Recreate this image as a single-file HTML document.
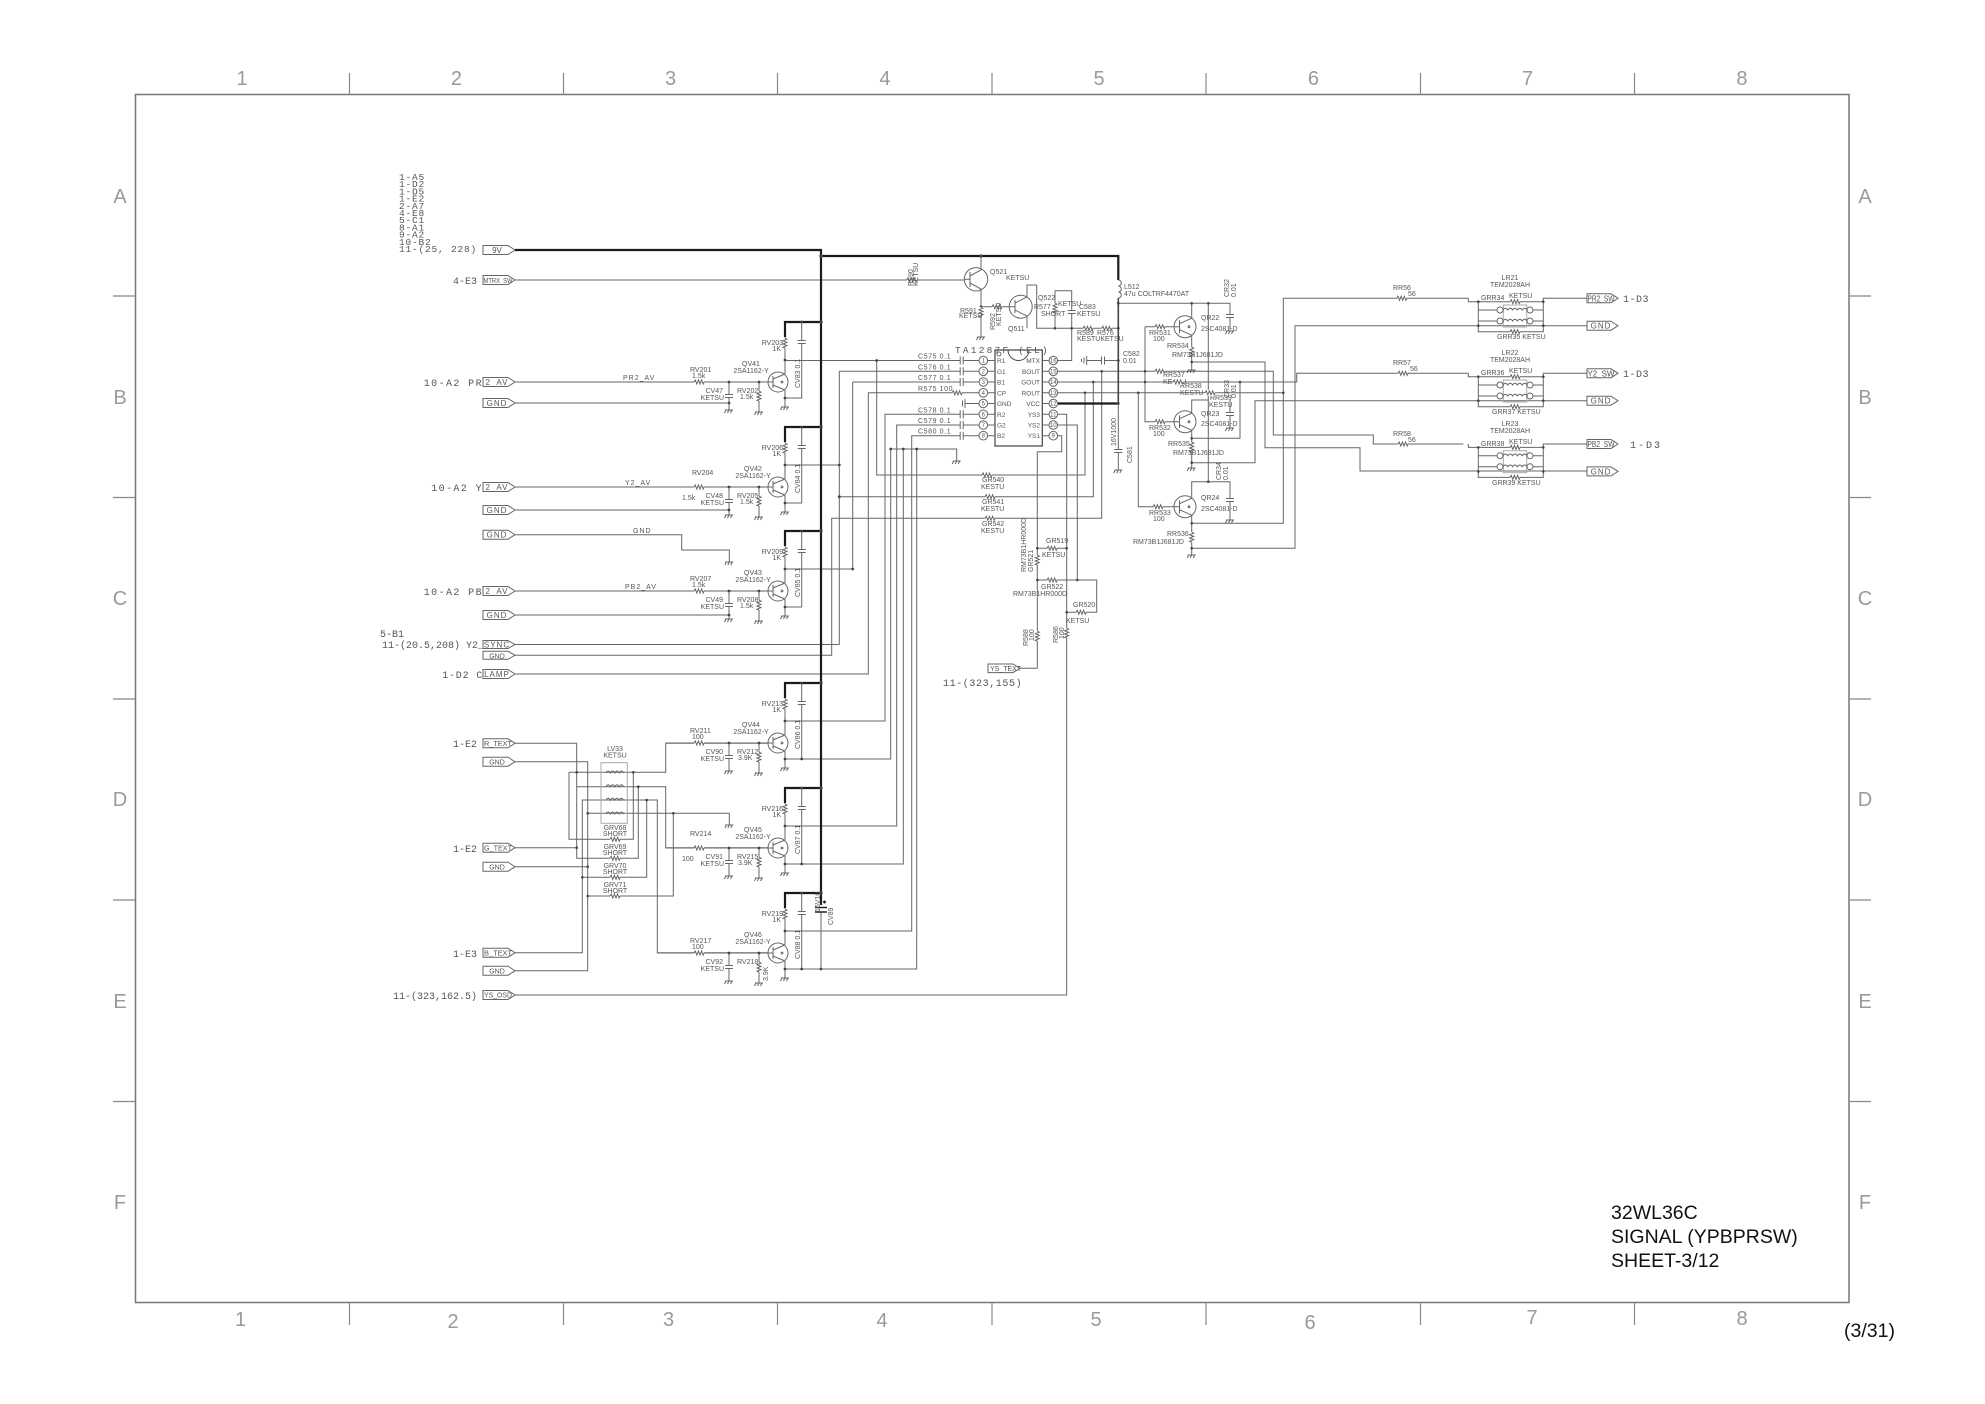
<!DOCTYPE html>
<html><head><meta charset="utf-8"><title>32WL36C SIGNAL (YPBPRSW)</title>
<style>
html,body{margin:0;padding:0;background:#fff;width:1985px;height:1404px;overflow:hidden}
svg{display:block}
.w{stroke:#666;stroke-width:1;fill:none}
.k{stroke:#1a1a1a;stroke-width:2.2;fill:none}
.l{stroke:#aaa;stroke-width:1;fill:none}
.f{stroke:#888;stroke-width:1.2;fill:none}
.d{fill:#444}
.t{font-family:"Liberation Sans",sans-serif;font-size:7px;fill:#555}
.m{font-family:"Liberation Mono",monospace;font-size:10px;fill:#555}
.b{font-family:"Liberation Sans",sans-serif;font-size:8px;fill:#555}
.r{font-family:"Liberation Sans",sans-serif;font-size:20px;fill:#9a9a9a}
.h{font-family:"Liberation Sans",sans-serif;font-size:19.5px;fill:#111}
</style></head><body>
<svg width="1985" height="1404" viewBox="0 0 1985 1404" xmlns="http://www.w3.org/2000/svg">
<defs>
<g id="tq" class="w"><circle r="10"/><path d="M-5,-6V6M-10,0H-5M-5,-3L7,-8M-5,3L7,8"/><circle cx="4" cy="0" r="0.9"/></g>
<g id="tr" class="w"><circle r="11"/><path d="M-5.5,-6.5V6.5M-11,0H-5.5M-5.5,-3L6.7,-8.5M-5.5,3L6.7,8.5"/><circle cx="4" cy="0" r="0.9"/></g>
<g id="rv"><rect x="-3" y="-5" width="6" height="10" fill="#fff"/><path class="w" d="M0,-5l2,1.2l-4,1.6l4,1.6l-4,1.6l4,1.6l-4,1.6l2,0.8"/></g>
<g id="rh"><rect x="-5" y="-3" width="10" height="6" fill="#fff"/><path class="w" d="M-5,0l1.2,-2l1.6,4l1.6,-4l1.6,4l1.6,-4l1.6,4l0.8,-2"/></g>
<g id="cv"><rect x="-4" y="-1.5" width="8" height="3" fill="#fff"/><path class="w" d="M-4,-1.5H4M-4,1.5H4"/></g>
<g id="ch"><rect x="-1.5" y="-4" width="3" height="8" fill="#fff"/><path class="w" d="M-1.5,-4V4M1.5,-4V4"/></g>
<path id="gn" class="w" d="M-4,0H4M-3,0l-1.5,3M0,0l-1.5,3M3,0l-1.5,3"/>
</defs>

<!-- frame -->
<rect x="135.5" y="94.5" width="1713.5" height="1208" fill="none" stroke="#777" stroke-width="1.5"/>
<path class="f" d="M349.5,73V94.5M563.5,73V94.5M777.5,73V94.5M992,73V94.5M1206,73V94.5M1420.5,73V94.5M1634.5,73V94.5
M349.5,1302.5V1325M563.5,1302.5V1325M777.5,1302.5V1325M992,1302.5V1325M1206,1302.5V1325M1420.5,1302.5V1325M1634.5,1302.5V1325
M113,296H135.5M113,497.5H135.5M113,699H135.5M113,900H135.5M113,1101.5H135.5
M1849,296H1871M1849,497.5H1871M1849,699H1871M1849,900H1871M1849,1101.5H1871"/>
<g class="r" text-anchor="middle">
<text x="242" y="85">1</text><text x="456.4" y="85">2</text><text x="670.6" y="85">3</text><text x="884.9" y="85">4</text><text x="1099" y="85">5</text><text x="1313.4" y="85">6</text><text x="1527.6" y="85">7</text><text x="1741.9" y="85">8</text>
<text x="240.5" y="1326">1</text><text x="453" y="1328">2</text><text x="668.5" y="1326">3</text><text x="882" y="1327">4</text><text x="1096" y="1326">5</text><text x="1310" y="1329">6</text><text x="1532" y="1324">7</text><text x="1742" y="1325">8</text>
<text x="120" y="203">A</text><text x="120" y="404">B</text><text x="120" y="605">C</text><text x="120" y="806">D</text><text x="120" y="1008">E</text><text x="120" y="1209">F</text>
<text x="1865" y="203">A</text><text x="1865" y="404">B</text><text x="1865" y="605">C</text><text x="1865" y="806">D</text><text x="1865" y="1008">E</text><text x="1865" y="1209">F</text>
</g>
<text class="h" x="1611" y="1219">32WL36C</text>
<text class="h" x="1611" y="1243">SIGNAL (YPBPRSW)</text>
<text class="h" x="1611" y="1267">SHEET-3/12</text>
<text class="h" x="1844" y="1337">(3/31)</text>

<!-- left reference block -->
<g class="m" style="font-size:9.5px;letter-spacing:0.8px">
<text x="399" y="180">1-A5</text><text x="399" y="187.2">1-D2</text><text x="399" y="194.4">1-D5</text><text x="399" y="201.6">1-E2</text><text x="399" y="208.8">2-A7</text><text x="399" y="216">4-E8</text><text x="399" y="223.2">5-C1</text><text x="399" y="230.4">8-A1</text><text x="399" y="237.6">9-A2</text><text x="399" y="244.8">10-B2</text><text x="399" y="252">11-(25, 228)</text>
</g>

<!-- left connectors -->
<path class="w" d="M483,245.5H508L515,250L508,254.5H483ZM483,275.5H508L515,280L508,284.5H483ZM483,377.5H508L515,382L508,386.5H483ZM483,398.5H508L515,403L508,407.5H483ZM483,482.5H508L515,487L508,491.5H483ZM483,505.5H508L515,510L508,514.5H483ZM483,530.2H508L515,534.7L508,539.2H483ZM483,586.5H508L515,591L508,595.5H483ZM483,610.5H508L515,615L508,619.5H483ZM483,640.5H508L515,644.5L508,648.5H483ZM483,651.3H508L515,655.3L508,659.3H483ZM483,669.5H508L515,674L508,678.5H483ZM483,738.8H508L515,743.3L508,747.8H483ZM483,757.2H508L515,761.7L508,766.2H483ZM483,843.2H508L515,847.7L508,852.2H483ZM483,862.2H508L515,866.7L508,871.2H483ZM483,948.2H508L515,952.7L508,957.2H483ZM483,966.2H508L515,970.7L508,975.2H483ZM483,990.5H508L515,995L508,999.5H483Z"/>
<g class="b" text-anchor="middle">
<text x="497" y="253">9V</text>
<text x="498" y="283" textLength="29" lengthAdjust="spacingAndGlyphs" style="font-size:7px">MTRX_SW</text>
<text x="497" y="385" letter-spacing="1">2_AV</text>
<text x="497" y="406" letter-spacing="1">GND</text>
<text x="497" y="490" letter-spacing="1">2_AV</text>
<text x="497" y="513" letter-spacing="1">GND</text>
<text x="497" y="537.7" letter-spacing="1">GND</text>
<text x="497" y="594" letter-spacing="1">2_AV</text>
<text x="497" y="618" letter-spacing="1">GND</text>
<text x="497" y="647.5" letter-spacing="1">SYNC</text>
<text x="497" y="658.3" style="font-size:7px">GND</text>
<text x="497" y="677" letter-spacing="1">LAMP</text>
<text x="498" y="746" textLength="28" lengthAdjust="spacingAndGlyphs" style="font-size:7px">R_TEXT</text>
<text x="497" y="764.5" style="font-size:7px">GND</text>
<text x="498" y="850.5" textLength="28" lengthAdjust="spacingAndGlyphs" style="font-size:7px">G_TEXT</text>
<text x="497" y="869.5" style="font-size:7px">GND</text>
<text x="498" y="955.5" textLength="28" lengthAdjust="spacingAndGlyphs" style="font-size:7px">B_TEXT</text>
<text x="497" y="973.5" style="font-size:7px">GND</text>
<text x="498" y="997.5" textLength="28" lengthAdjust="spacingAndGlyphs" style="font-size:7px">YS_OSD</text>
</g>
<g class="m" text-anchor="end">
<text x="477" y="284">4-E3</text>
<text x="483" y="386" letter-spacing="1.4">10-A2 PR</text>
<text x="483" y="491" letter-spacing="1.4">10-A2 Y</text>
<text x="483" y="595" letter-spacing="1.4">10-A2 PB</text>
<text x="484" y="648">11-(20.5,208) Y2_</text>
<text x="483" y="678" letter-spacing="0.8">1-D2 C</text>
<text x="477" y="747">1-E2</text>
<text x="477" y="852">1-E2</text>
<text x="477" y="957">1-E3</text>
<text x="477" y="999">11-(323,162.5)</text>
</g>
<text class="m" x="380" y="637">5-B1</text>

<!-- main thin wires -->
<path class="w" d="M515,280H964
M785,360.5H979M876.7,360.5V475H1085V392.8
M785,465H839.3M839.3,371.3V644.5M839.3,371.3H979
M785,569H852.7M852.7,382V569M852.7,382H979
M515,674H868.3V392.8H979
M515,644.5H839.3
M515,655.3H831.7V518.3H1101.7V371.3
M839.3,496.7H1093.3V382
M785,721H885V414.3H979
M785,759H890.7V449H956.7V461
M785,826H896.7V425H979
M785,864H903.3V449
M785,931H911.7V435.7H979
M785,969H916.7V449
M821,912.5V969
M965,403.5H979M965,399V408M962.5,400.5V406.5
M515,534.7H681.7V550H729.3V562
M515,995H1066.7V414.3H1057.6
M1057.6,425H1077.3V580
M1057.6,435.7H1061.7V451.7H1037.3V668.3H1020
M1037.3,548.3H1066.7
M1037.3,580H1096.7V612.3H1066.7
M1057.6,360.5H1071.7V290.7H1055V328.3
M1036.7,285V328.3H1118.3
M1057.6,371.3H1273.3V435H1373.3V444H1463.3
M1057.6,382H1296.7V373.3H1468.3
M1057.6,392.8H1283.3
M1118.3,298V470
M1086.7,360.5H1118.3M1086.7,356V365M1084,357.5V363.5M1081.5,359V362
M1118.3,303.3H1230V330
M1208.3,303.3V481.7
M1191.7,303.3V318.5M1191.7,335V370
M1191.7,362H1265V447.7H1360V471H1587
M1145,326.7H1174M1145,326.7V421.7H1174
M1138.3,392.8V506.7H1174
M1191.7,413.5V400H1208.3M1191.7,430V468
M1191.7,438.3H1240V382
M1191.7,462.7H1255V400.7H1587
M1230,400V428
M1191.7,498.5V481.7H1230V520
M1191.7,515V555
M1191.7,523.3H1283.3V298.3H1468.3
M1191.7,548.3H1295V325.7H1587
M981,256V270L970,276M970,272V287M964.3,279.3H970M970,283L981,289V337
M981,306.7H1009
M1009,306.7H1015M1015,300V313M1015,303L1027,297V285H1036.7M1015,310L1027,316V328.3
"/>
<!-- thick -->
<path class="k" d="M515,250H821V905"/>
<path class="k" d="M821,256H1118.3V280"/>
<path class="k" d="M1058,403.5H1118.3"/>
<path class="w" style="stroke-width:1.6;stroke:#444" d="M1118.3,298V403.5"/>
<path class="w" d="M1118.3,280a3,3 0 0 1 0,6a3,3 0 0 1 0,6a3,3 0 0 1 0,6"/>
<path class="w" style="stroke:#222;stroke-width:1.4" d="M815,907.5H827M815,912H827M823,902H826M824.5,900.5V903.5"/>
<circle class="w" cx="976" cy="279.3" r="11.7"/>
<circle class="w" cx="1020.7" cy="306.7" r="11.5"/>

<!-- LV33 area -->
<path class="w" d="M515,743.3H576.7V858.3H638.3V786.7
M515,847.7H576.7
M569,772.3H665.7V743.3H768
M569,772.3V839.3H633.3V772.3
M576.7,786.7H665.7V847.7H768
M515,952.7H582.3V800H657.3V952.7H768
M582.3,877.3H646.7V800
M515,761.7H587.7V970.7H515
M515,866.7H587.7
M587.7,813.3H729.3V825
M587.7,896H673.3V813.3"/>
<rect x="601" y="762.7" width="26.3" height="60.6" class="l"/>
<path class="w" d="M606,773q2.2,-4 4.4,0q2.2,-4 4.4,0q2.2,-4 4.4,0q2.2,-4 4.4,0M606,786.7q2.2,-4 4.4,0q2.2,-4 4.4,0q2.2,-4 4.4,0q2.2,-4 4.4,0M606,800.3q2.2,-4 4.4,0q2.2,-4 4.4,0q2.2,-4 4.4,0q2.2,-4 4.4,0M606,814q2.2,-4 4.4,0q2.2,-4 4.4,0q2.2,-4 4.4,0q2.2,-4 4.4,0"/>
<use href="#rh" x="615" y="839.3"/><use href="#rh" x="615" y="858.3"/><use href="#rh" x="615" y="877.3"/><use href="#rh" x="615" y="896"/>
<use href="#gn" x="729.3" y="825"/><use href="#gn" x="729.3" y="562"/>
<g class="t" text-anchor="middle">
<text x="615" y="751">LV33</text><text x="615" y="757.5">KETSU</text>
<text x="615" y="830">GRV68</text><text x="615" y="836">SHORT</text>
<text x="615" y="849">GRV69</text><text x="615" y="855">SHORT</text>
<text x="615" y="868">GRV70</text><text x="615" y="874">SHORT</text>
<text x="615" y="887">GRV71</text><text x="615" y="893">SHORT</text>
</g>
<text class="t" x="633" y="533" letter-spacing="1">GND</text>
<g class="d">
<circle cx="576.7" cy="772.3" r="1.3"/><circle cx="576.7" cy="847.7" r="1.3"/><circle cx="633.3" cy="772.3" r="1.3"/><circle cx="638.3" cy="786.7" r="1.3"/><circle cx="646.7" cy="800" r="1.3"/><circle cx="673.3" cy="813.3" r="1.3"/><circle cx="582.3" cy="877.3" r="1.3"/><circle cx="587.7" cy="813.3" r="1.3"/><circle cx="587.7" cy="866.7" r="1.3"/><circle cx="587.7" cy="896" r="1.3"/>
</g>

<!-- transistor groups -->
<g transform="translate(0,382)">
<path class="w" d="M785,-45V-8M785,8V25M801.7,-60V16H785M515,0H768M729,0V28M759,0V30"/>
<path class="k" d="M785,-45V-60H821"/>
<use href="#rv" x="785" y="-39"/><use href="#cv" x="801.7" y="-40"/><use href="#tq" x="778" y="0"/><use href="#gn" x="785" y="25"/><use href="#rh" x="699" y="0"/><use href="#cv" x="729" y="14"/><use href="#rv" x="759" y="14"/><use href="#gn" x="729" y="28"/><use href="#gn" x="759" y="30"/>
<g class="d"><circle cx="785" cy="-22" r="1.4"/><circle cx="801.7" cy="-60" r="1.4"/><circle cx="821" cy="-60" r="1.7"/><circle cx="729" cy="0" r="1.4"/><circle cx="759" cy="0" r="1.4"/><circle cx="785" cy="16" r="1.4"/><circle cx="729" cy="21" r="1.4"/></g>
<g class="t"><text x="783" y="-37" text-anchor="end">RV203</text><text x="781" y="-31" text-anchor="end">1K</text><text x="751" y="-16" text-anchor="middle">QV41</text><text x="751" y="-9" text-anchor="middle">2SA1162-Y</text><text transform="translate(800,6) rotate(-90)">CV83  0.1</text><text x="690" y="-10">RV201</text><text x="692" y="-4">1.5k</text><text x="723" y="11" text-anchor="end">CV47</text><text x="724" y="18" text-anchor="end">KETSU</text><text x="737" y="11">RV202</text><text x="740" y="17">1.5k</text><text x="623" y="-2" letter-spacing="1">PR2_AV</text></g>
</g>
<path class="w" d="M515,403H729M515,510H729M515,615H729"/>

<g transform="translate(0,487)">
<path class="w" d="M785,-45V-8M785,8V25M801.7,-60V16H785M515,0H768M729,0V28M759,0V30"/>
<path class="k" d="M785,-45V-60H821"/>
<use href="#rv" x="785" y="-39"/><use href="#cv" x="801.7" y="-40"/><use href="#tq" x="778" y="0"/><use href="#gn" x="785" y="25"/><use href="#rh" x="699" y="0"/><use href="#cv" x="729" y="14"/><use href="#rv" x="759" y="14"/><use href="#gn" x="729" y="28"/><use href="#gn" x="759" y="30"/>
<g class="d"><circle cx="785" cy="-22" r="1.4"/><circle cx="801.7" cy="-60" r="1.4"/><circle cx="821" cy="-60" r="1.7"/><circle cx="729" cy="0" r="1.4"/><circle cx="759" cy="0" r="1.4"/><circle cx="785" cy="16" r="1.4"/><circle cx="729" cy="23" r="1.4"/></g>
<g class="t"><text x="783" y="-37" text-anchor="end">RV206</text><text x="781" y="-31" text-anchor="end">1K</text><text x="753" y="-16" text-anchor="middle">QV42</text><text x="753" y="-9" text-anchor="middle">2SA1162-Y</text><text transform="translate(800,6) rotate(-90)">CV84  0.1</text><text x="692" y="-12">RV204</text><text x="682" y="13">1.5k</text><text x="723" y="11" text-anchor="end">CV48</text><text x="724" y="18" text-anchor="end">KETSU</text><text x="737" y="11">RV205</text><text x="740" y="17">1.5k</text><text x="625" y="-2" letter-spacing="1">Y2_AV</text></g>
</g>

<g transform="translate(0,591)">
<path class="w" d="M785,-45V-8M785,8V25M801.7,-60V16H785M515,0H768M729,0V28M759,0V30"/>
<path class="k" d="M785,-45V-60H821"/>
<use href="#rv" x="785" y="-39"/><use href="#cv" x="801.7" y="-40"/><use href="#tq" x="778" y="0"/><use href="#gn" x="785" y="25"/><use href="#rh" x="699" y="0"/><use href="#cv" x="729" y="14"/><use href="#rv" x="759" y="14"/><use href="#gn" x="729" y="28"/><use href="#gn" x="759" y="30"/>
<g class="d"><circle cx="785" cy="-22" r="1.4"/><circle cx="801.7" cy="-60" r="1.4"/><circle cx="821" cy="-60" r="1.7"/><circle cx="729" cy="0" r="1.4"/><circle cx="759" cy="0" r="1.4"/><circle cx="785" cy="16" r="1.4"/><circle cx="729" cy="24" r="1.4"/></g>
<g class="t"><text x="783" y="-37" text-anchor="end">RV209</text><text x="781" y="-31" text-anchor="end">1K</text><text x="753" y="-16" text-anchor="middle">QV43</text><text x="753" y="-9" text-anchor="middle">2SA1162-Y</text><text transform="translate(800,6) rotate(-90)">CV85  0.1</text><text x="690" y="-10">RV207</text><text x="692" y="-4">1.5k</text><text x="723" y="11" text-anchor="end">CV49</text><text x="724" y="18" text-anchor="end">KETSU</text><text x="737" y="11">RV208</text><text x="740" y="17">1.5k</text><text x="625" y="-2" letter-spacing="1">PB2_AV</text></g>
</g>

<g transform="translate(0,743)">
<path class="w" d="M785,-45V-8M785,8V25M801.7,-60V16H785M665.7,0H768M729,0V28M759,0V30"/>
<path class="k" d="M785,-45V-60H821"/>
<use href="#rv" x="785" y="-39"/><use href="#cv" x="801.7" y="-40"/><use href="#tq" x="778" y="0"/><use href="#gn" x="785" y="25"/><use href="#rh" x="699" y="0"/><use href="#cv" x="729" y="14"/><use href="#rv" x="759" y="14"/><use href="#gn" x="729" y="28"/><use href="#gn" x="759" y="30"/>
<g class="d"><circle cx="785" cy="-22" r="1.4"/><circle cx="801.7" cy="-60" r="1.4"/><circle cx="821" cy="-60" r="1.7"/><circle cx="729" cy="0" r="1.4"/><circle cx="759" cy="0" r="1.4"/><circle cx="785" cy="16" r="1.4"/><circle cx="801.7" cy="16" r="1.4"/></g>
<g class="t"><text x="783" y="-37" text-anchor="end">RV213</text><text x="781" y="-31" text-anchor="end">1K</text><text x="751" y="-16" text-anchor="middle">QV44</text><text x="751" y="-9" text-anchor="middle">2SA1162-Y</text><text transform="translate(800,6) rotate(-90)">CV86  0.1</text><text x="690" y="-10">RV211</text><text x="692" y="-4">100</text><text x="723" y="11" text-anchor="end">CV90</text><text x="724" y="18" text-anchor="end">KETSU</text><text x="737" y="11">RV212</text><text x="738" y="17">3.9K</text></g>
</g>

<g transform="translate(0,848)">
<path class="w" d="M785,-45V-8M785,8V25M801.7,-60V16H785M665.7,0H768M729,0V28M759,0V30"/>
<path class="k" d="M785,-45V-60H821"/>
<use href="#rv" x="785" y="-39"/><use href="#cv" x="801.7" y="-40"/><use href="#tq" x="778" y="0"/><use href="#gn" x="785" y="25"/><use href="#rh" x="699" y="0"/><use href="#cv" x="729" y="14"/><use href="#rv" x="759" y="14"/><use href="#gn" x="729" y="28"/><use href="#gn" x="759" y="30"/>
<g class="d"><circle cx="785" cy="-22" r="1.4"/><circle cx="801.7" cy="-60" r="1.4"/><circle cx="821" cy="-60" r="1.7"/><circle cx="729" cy="0" r="1.4"/><circle cx="759" cy="0" r="1.4"/><circle cx="785" cy="16" r="1.4"/><circle cx="801.7" cy="16" r="1.4"/></g>
<g class="t"><text x="783" y="-37" text-anchor="end">RV216</text><text x="781" y="-31" text-anchor="end">1K</text><text x="753" y="-16" text-anchor="middle">QV45</text><text x="753" y="-9" text-anchor="middle">2SA1162-Y</text><text transform="translate(800,6) rotate(-90)">CV87  0.1</text><text x="690" y="-12">RV214</text><text x="682" y="13">100</text><text x="723" y="11" text-anchor="end">CV91</text><text x="724" y="18" text-anchor="end">KETSU</text><text x="737" y="11">RV215</text><text x="738" y="17">3.9K</text></g>
</g>

<g transform="translate(0,953)">
<path class="w" d="M785,-45V-8M785,8V25M801.7,-60V16H785M657.3,0H768M729,0V28M759,0V30"/>
<path class="k" d="M785,-45V-60H821"/>
<use href="#rv" x="785" y="-39"/><use href="#cv" x="801.7" y="-40"/><use href="#tq" x="778" y="0"/><use href="#gn" x="785" y="25"/><use href="#rh" x="699" y="0"/><use href="#cv" x="729" y="14"/><use href="#rv" x="759" y="14"/><use href="#gn" x="729" y="28"/><use href="#gn" x="759" y="30"/>
<g class="d"><circle cx="785" cy="-22" r="1.4"/><circle cx="801.7" cy="-60" r="1.4"/><circle cx="821" cy="-60" r="1.7"/><circle cx="729" cy="0" r="1.4"/><circle cx="759" cy="0" r="1.4"/><circle cx="785" cy="16" r="1.4"/><circle cx="801.7" cy="16" r="1.4"/><circle cx="821" cy="16" r="1.4"/></g>
<g class="t"><text x="783" y="-37" text-anchor="end">RV219</text><text x="781" y="-31" text-anchor="end">1K</text><text x="753" y="-16" text-anchor="middle">QV46</text><text x="753" y="-9" text-anchor="middle">2SA1162-Y</text><text transform="translate(800,6) rotate(-90)">CV88  0.1</text><text x="690" y="-10">RV217</text><text x="692" y="-4">100</text><text x="723" y="11" text-anchor="end">CV92</text><text x="724" y="18" text-anchor="end">KETSU</text><text x="737" y="11">RV218</text><text transform="translate(768,28) rotate(-90)">3.9K</text></g>
</g>
<g class="t"><text transform="translate(820,912) rotate(-90)">16V10</text><text transform="translate(833,925) rotate(-90)">CV89</text></g>

<!-- output line dots -->
<g class="d">
<circle cx="876.7" cy="360.5" r="1.4"/><circle cx="839.3" cy="465" r="1.4"/><circle cx="839.3" cy="496.7" r="1.4"/><circle cx="852.7" cy="569" r="1.4"/><circle cx="890.7" cy="449" r="1.4"/><circle cx="903.3" cy="449" r="1.4"/><circle cx="916.7" cy="449" r="1.4"/><circle cx="821" cy="256" r="1.7"/><circle cx="981" cy="256" r="1.6"/><circle cx="1118.3" cy="303.3" r="1.4"/><circle cx="1118.3" cy="328.3" r="1.4"/><circle cx="1118.3" cy="360.5" r="1.4"/><circle cx="1118.3" cy="403.5" r="1.4"/><circle cx="1055" cy="328.3" r="1.3"/><circle cx="1071.7" cy="328.3" r="1.3"/><circle cx="981" cy="306.7" r="1.3"/><circle cx="1085" cy="392.8" r="1.3"/><circle cx="1093.3" cy="382" r="1.3"/><circle cx="1101.7" cy="371.3" r="1.3"/><circle cx="1037.3" cy="548.3" r="1.3"/><circle cx="1037.3" cy="580" r="1.3"/><circle cx="1066.7" cy="548.3" r="1.3"/><circle cx="1066.7" cy="612.3" r="1.3"/><circle cx="1077.3" cy="580" r="1.3"/>
<circle cx="1191.7" cy="303.3" r="1.3"/><circle cx="1208.3" cy="303.3" r="1.3"/><circle cx="1145" cy="371.3" r="1.3"/><circle cx="1145" cy="382" r="1.3"/><circle cx="1138.3" cy="392.8" r="1.3"/><circle cx="1240" cy="382" r="1.3"/><circle cx="1283.3" cy="392.8" r="1.3"/><circle cx="1208.3" cy="481.7" r="1.3"/><circle cx="1191.7" cy="362" r="1.3"/><circle cx="1191.7" cy="438.3" r="1.3"/><circle cx="1191.7" cy="462.7" r="1.3"/><circle cx="1191.7" cy="523.3" r="1.3"/><circle cx="1191.7" cy="548.3" r="1.3"/>
</g>

<!-- left side passives on IC inputs -->
<use href="#ch" x="961.7" y="360.5"/><use href="#ch" x="961.7" y="371.3"/><use href="#ch" x="961.7" y="382"/><use href="#rh" x="957" y="392.8"/><use href="#ch" x="961.7" y="414.3"/><use href="#ch" x="961.7" y="425"/><use href="#ch" x="961.7" y="435.7"/>
<use href="#gn" x="956.7" y="461"/>
<use href="#rh" x="987" y="475"/><use href="#rh" x="990" y="496.7"/><use href="#rh" x="990" y="518.3"/>
<use href="#rh" x="911.7" y="280"/><use href="#rv" x="981" y="312"/><use href="#gn" x="981" y="337"/><use href="#rh" x="997" y="306.7"/>
<use href="#rv" x="1055" y="308"/><use href="#cv" x="1071.7" y="312"/><use href="#rh" x="1088" y="328.3"/><use href="#rh" x="1106.7" y="328.3"/>
<use href="#ch" x="1103" y="360.5"/><use href="#cv" x="1118.3" y="451"/><use href="#gn" x="1118.3" y="470"/>
<use href="#rv" x="1037.3" y="560"/><use href="#rv" x="1037.3" y="636"/><use href="#rv" x="1066.7" y="633"/><use href="#rh" x="1052" y="548.3"/><use href="#rh" x="1052" y="580"/><use href="#rh" x="1081" y="612.3"/>
<g class="t">
<text x="918" y="358.5" letter-spacing="0.6">C575  0.1</text><text x="918" y="369.3" letter-spacing="0.6">C576  0.1</text><text x="918" y="380" letter-spacing="0.6">C577  0.1</text><text x="918" y="390.8" letter-spacing="0.6">R575  100</text><text x="918" y="412.3" letter-spacing="0.6">C578  0.1</text><text x="918" y="423" letter-spacing="0.6">C579  0.1</text><text x="918" y="433.7" letter-spacing="0.6">C580  0.1</text>
<text x="982" y="482">GR540</text><text x="981" y="489">KESTU</text><text x="982" y="504">GR541</text><text x="981" y="511">KESTU</text><text x="982" y="526">GR542</text><text x="981" y="533">KESTU</text>
<text x="990" y="274">Q521</text><text x="1006" y="280">KETSU</text>
<text transform="translate(913,286) rotate(-90)">R590</text><text transform="translate(918,286) rotate(-90)">KETSU</text>
<text x="960" y="313">R591</text><text x="959" y="318">KETSU</text>
<text transform="translate(995,330) rotate(-90)">R592</text><text transform="translate(1001,326) rotate(-90)">KETSU</text>
<text x="1038" y="300">Q522</text><text x="1034" y="309">R577</text><text x="1041" y="316">SHORT</text><text x="1058" y="306">KETSU</text><text x="1079" y="309">C583</text><text x="1077" y="316">KETSU</text><text x="1008" y="331">Q511</text>
<text x="1077" y="335">R589</text><text x="1097" y="335">R576</text><text x="1077" y="341">KESTUKETSU</text>
<text x="1124" y="289">L512</text><text x="1124" y="296">47u   COLTRF4470AT</text>
<text x="1123" y="356">C582</text><text x="1123" y="363">0.01</text>
<text transform="translate(1116,446) rotate(-90)">16V1000</text><text transform="translate(1132,463) rotate(-90)">C581</text>
<text x="1046" y="543">GR519</text><text x="1042" y="557">KETSU</text>
<text x="1041" y="589">GR522</text><text x="1013" y="596">RM73B1HR000D</text>
<text x="1073" y="607">GR520</text><text x="1066" y="623">KETSU</text>
<text transform="translate(1026,572) rotate(-90)">RM73B1HR000D</text><text transform="translate(1033,572) rotate(-90)">GR521</text>
<text transform="translate(1028,646) rotate(-90)">R588</text><text transform="translate(1034,641) rotate(-90)">100</text>
<text transform="translate(1058,643) rotate(-90)">R586</text><text transform="translate(1064,639) rotate(-90)">100</text>
</g>
<path class="w" d="M988,664H1013L1020,668.3L1013,672.6H988Z"/>
<text class="t" x="990" y="671">YS_TEXT</text>
<text class="m" x="943" y="686" letter-spacing="0.6">11-(323,155)</text>

<!-- IC -->
<rect x="995" y="350" width="47.3" height="96" fill="none" stroke="#444" stroke-width="1.2"/>
<path class="w" style="stroke:#444" d="M1008,350a10.5,10.5 0 0 0 21,0"/>
<circle class="w" cx="999" cy="354" r="2"/>
<text class="m" x="955" y="353" letter-spacing="2.2" style="font-size:9.5px">TA1287F (EL)</text>
<g class="w">
<circle cx="983.3" cy="360.5" r="4.3"/><circle cx="983.3" cy="371.3" r="4.3"/><circle cx="983.3" cy="382" r="4.3"/><circle cx="983.3" cy="392.8" r="4.3"/><circle cx="983.3" cy="403.5" r="4.3"/><circle cx="983.3" cy="414.3" r="4.3"/><circle cx="983.3" cy="425" r="4.3"/><circle cx="983.3" cy="435.7" r="4.3"/>
<circle cx="1053.3" cy="360.5" r="4.3"/><circle cx="1053.3" cy="371.3" r="4.3"/><circle cx="1053.3" cy="382" r="4.3"/><circle cx="1053.3" cy="392.8" r="4.3"/><circle cx="1053.3" cy="403.5" r="4.3"/><circle cx="1053.3" cy="414.3" r="4.3"/><circle cx="1053.3" cy="425" r="4.3"/><circle cx="1053.3" cy="435.7" r="4.3"/>
<path d="M987.6,360.5H995M987.6,371.3H995M987.6,382H995M987.6,392.8H995M987.6,403.5H995M987.6,414.3H995M987.6,425H995M987.6,435.7H995M1042.3,360.5H1049M1042.3,371.3H1049M1042.3,382H1049M1042.3,392.8H1049M1042.3,403.5H1049M1042.3,414.3H1049M1042.3,425H1049M1042.3,435.7H1049"/>
</g>
<g class="t" text-anchor="middle" style="font-size:6px">
<text x="983.3" y="362.5">1</text><text x="983.3" y="373.3">2</text><text x="983.3" y="384">3</text><text x="983.3" y="394.8">4</text><text x="983.3" y="405.5">5</text><text x="983.3" y="416.3">6</text><text x="983.3" y="427">7</text><text x="983.3" y="437.7">8</text>
<text x="1053.3" y="362.5">16</text><text x="1053.3" y="373.3">15</text><text x="1053.3" y="384">14</text><text x="1053.3" y="394.8">13</text><text x="1053.3" y="405.5">12</text><text x="1053.3" y="416.3">11</text><text x="1053.3" y="427">10</text><text x="1053.3" y="437.7">9</text>
</g>
<g class="t" style="font-size:6.5px">
<text x="997" y="363">R1</text><text x="997" y="373.8">G1</text><text x="997" y="384.5">B1</text><text x="997" y="395.3">CP</text><text x="997" y="406">GND</text><text x="997" y="416.8">R2</text><text x="997" y="427.5">G2</text><text x="997" y="438.2">B2</text>
</g>
<g class="t" style="font-size:6.5px" text-anchor="end">
<text x="1040" y="363">MTX</text><text x="1040" y="373.8">BOUT</text><text x="1040" y="384.5">GOUT</text><text x="1040" y="395.3">ROUT</text><text x="1040" y="406">VCC</text><text x="1040" y="416.8">YS3</text><text x="1040" y="427.5">YS2</text><text x="1040" y="438.2">YS1</text>
</g>

<!-- right transistors -->
<use href="#tr" x="1185" y="326.7"/><use href="#tr" x="1185" y="421.7"/><use href="#tr" x="1185" y="506.7"/>
<use href="#rh" x="1160" y="326.7"/><use href="#rh" x="1160" y="421.7"/><use href="#rh" x="1158" y="506.7"/>
<use href="#rv" x="1191.7" y="352"/><use href="#rv" x="1191.7" y="447"/><use href="#rv" x="1191.7" y="537"/>
<use href="#gn" x="1191.7" y="370"/><use href="#gn" x="1191.7" y="468"/><use href="#gn" x="1191.7" y="555"/>
<use href="#cv" x="1230" y="316"/><use href="#gn" x="1230" y="331"/><use href="#cv" x="1230" y="414"/><use href="#gn" x="1230" y="428"/><use href="#cv" x="1230" y="500"/><use href="#gn" x="1230" y="520"/>
<g class="t">
<text x="1201" y="320">QR22</text><text x="1201" y="331">2SC4081-D</text>
<text x="1201" y="416">QR23</text><text x="1201" y="426">2SC4081-D</text>
<text x="1201" y="500">QR24</text><text x="1201" y="511">2SC4081-D</text>
<text x="1149" y="335">RR531</text><text x="1153" y="341">100</text>
<text x="1149" y="430">RR532</text><text x="1153" y="436">100</text>
<text x="1149" y="515">RR533</text><text x="1153" y="521">100</text>
<text x="1167" y="348">RR534</text><text x="1172" y="357">RM73B1J681JD</text>
<text x="1168" y="446">RR535</text><text x="1173" y="455">RM73B1J681JD</text>
<text x="1167" y="536">RR536</text><text x="1133" y="544">RM73B1J681JD</text>
<text x="1163" y="377">RR537</text><text x="1163" y="384">KESTU</text>
<text x="1180" y="388">RR538</text><text x="1180" y="395">KESTU</text>
<text x="1210" y="400">RR539</text><text x="1209" y="407">KESTU</text>
<text transform="translate(1229,297) rotate(-90)">CR32</text><text transform="translate(1236,297) rotate(-90)">0.01</text>
<text transform="translate(1229,398) rotate(-90)">CR33</text><text transform="translate(1236,398) rotate(-90)">0.01</text>
<text transform="translate(1221,480) rotate(-90)">CR34</text><text transform="translate(1228,480) rotate(-90)">0.01</text>
</g>
<use href="#rh" x="1160" y="371.3"/><use href="#rh" x="1178" y="382"/><use href="#rh" x="1210" y="392.8"/>

<!-- right connectors -->
<use href="#rh" x="1401.7" y="298.3"/><use href="#rh" x="1403" y="373.3"/><use href="#rh" x="1403" y="444"/>
<g class="t">
<text x="1393" y="290">RR56</text><text x="1408" y="296">56</text>
<text x="1393" y="365">RR57</text><text x="1410" y="371">56</text>
<text x="1393" y="436">RR58</text><text x="1408" y="442">56</text>
</g>
<g id="rc1">
<path class="w" d="M1468.3,298.3V301.7H1543.3V298.3H1587M1478.3,301.7V331.7H1543.3V301.7"/>
<rect x="1503.3" y="305" width="23.4" height="22" class="l"/>
<g class="w"><circle cx="1500" cy="310" r="3"/><circle cx="1530" cy="310" r="3"/><circle cx="1500" cy="321" r="3"/><circle cx="1530" cy="321" r="3"/>
<path d="M1503,310q2.4,-3.5 4.8,0q2.4,-3.5 4.8,0q2.4,-3.5 4.8,0q2.4,-3.5 4.8,0q2.4,-3.5 4.8,0M1503,321q2.4,-3.5 4.8,0q2.4,-3.5 4.8,0q2.4,-3.5 4.8,0q2.4,-3.5 4.8,0q2.4,-3.5 4.8,0M1478.3,310H1497M1533,310H1543.3M1478.3,321H1497M1533,321H1543.3"/></g>
<use href="#rh" x="1515" y="301.7"/><use href="#rh" x="1515" y="331.7"/>
<g class="d"><circle cx="1478.3" cy="301.7" r="1.3"/><circle cx="1543.3" cy="301.7" r="1.3"/><circle cx="1478.3" cy="325.7" r="1.3"/><circle cx="1543.3" cy="325.7" r="1.3"/></g>
<path class="w" d="M1587,293.8H1611L1618,298.3L1611,302.8H1587ZM1587,321.2H1611L1618,325.7L1611,330.2H1587Z"/>
</g>
<g transform="translate(0,75)"><use href="#rc1"/></g>
<g transform="translate(0,145.7)"><use href="#rc1"/></g>
<g class="t" text-anchor="middle">
<text x="1510" y="280">LR21</text><text x="1510" y="287">TEM2028AH</text>
<text x="1510" y="355">LR22</text><text x="1510" y="362">TEM2028AH</text>
<text x="1510" y="426">LR23</text><text x="1510" y="433">TEM2028AH</text>
</g>
<g class="t">
<text x="1481" y="300">GRR34</text><text x="1509" y="298">KETSU</text><text x="1497" y="339">GRR35 KETSU</text>
<text x="1481" y="375">GRR36</text><text x="1509" y="373">KETSU</text><text x="1492" y="414">GRR37 KETSU</text>
<text x="1481" y="446">GRR38</text><text x="1509" y="444">KETSU</text><text x="1492" y="485">GRR39 KETSU</text>
</g>
<g class="b" text-anchor="middle">
<text x="1601" y="301.3" textLength="27" lengthAdjust="spacingAndGlyphs">PR2_SW</text><text x="1601" y="328.7" letter-spacing="1">GND</text>
<text x="1601" y="376.3" textLength="27" lengthAdjust="spacingAndGlyphs">Y2_SW</text><text x="1601" y="403.7" letter-spacing="1">GND</text>
<text x="1601" y="447" textLength="27" lengthAdjust="spacingAndGlyphs">PB2_SW</text><text x="1601" y="474.4" letter-spacing="1">GND</text>
</g>
<g class="m">
<text x="1623" y="302" letter-spacing="0.5">1-D3</text>
<text x="1623" y="377" letter-spacing="0.5">1-D3</text>
<text x="1630" y="448" letter-spacing="2">1-D3</text>
</g>
</svg>
</body></html>
